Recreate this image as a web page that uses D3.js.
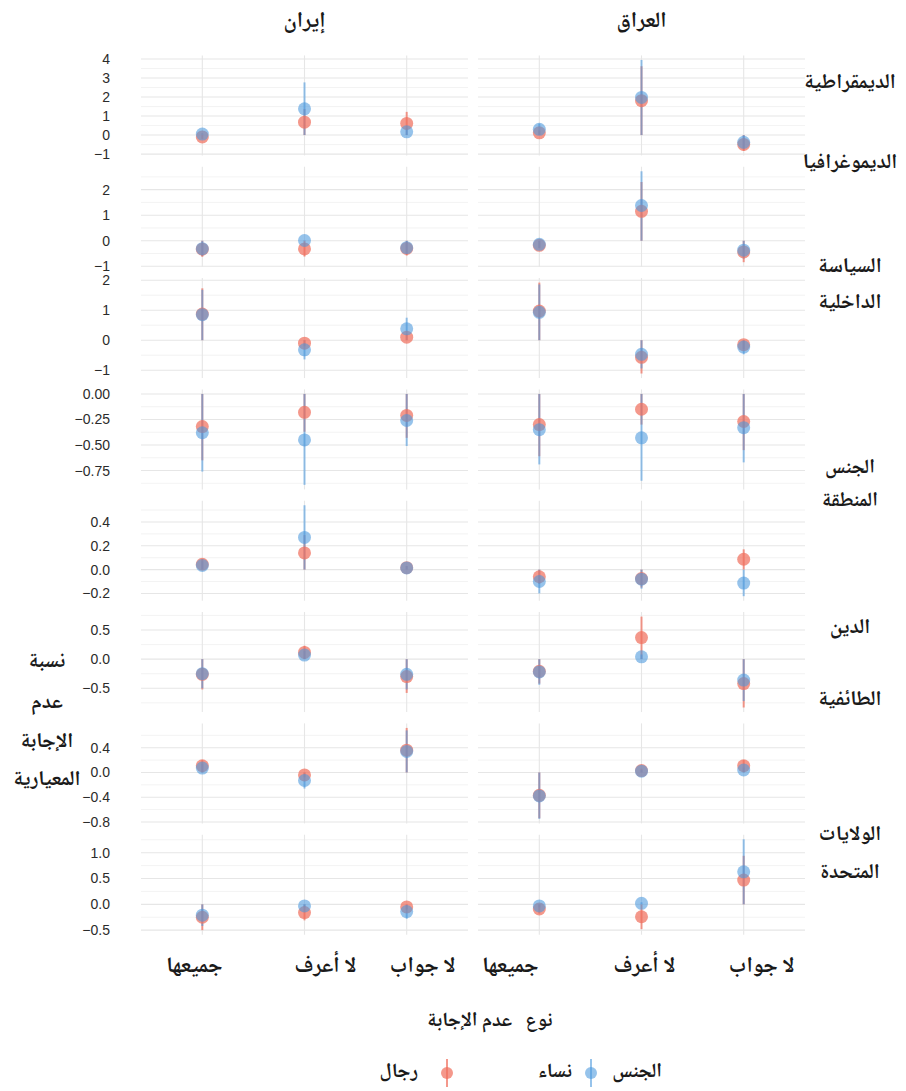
<!DOCTYPE html>
<html><head><meta charset="utf-8">
<script src="https://cdn.jsdelivr.net/npm/d3@7"></script>
<style>body{margin:0;background:#fff}svg{display:block}</style>
</head><body><svg id="c" width="906" height="1091"></svg>
<script>
// ---------------- DATA ----------------
const countries = ["إيران", "العراق"];
const categories = ["جميعها", "لا أعرف", "لا جواب"];
const topics = ["الديمقراطية", "الديموغرافيا", "السياسة الداخلية", "الجنس", "المنطقة", "الدين", "الطائفية", "الولايات المتحدة"];
const genders = ["نساء", "رجال"];

// each row = topic, each column = category (جميعها, لا أعرف, لا جواب)
const womenIran = [[0.05,1.38,0.17],[-0.31,0.01,-0.27],[0.85,-0.32,0.38],[-0.38,-0.45,-0.26],[0.035,0.27,0.014],[-0.25,0.07,-0.26],[0.07,-0.13,0.34],[-0.21,-0.03,-0.14]];
const womenIranLow = [[0,0,0],[-0.6,0,-0.5],[0,-0.64,0],[-0.76,-0.89,-0.51],[0,0,0],[-0.5,0,-0.52],[0,-0.26,0],[-0.42,-0.06,-0.28]];
const womenIranHigh = [[0.1,2.77,0.35],[0,0.02,0],[1.68,0,0.75],[0,0,0],[0.07,0.54,0.03],[0,0.14,0],[0.14,0,0.68],[0,0,0]];

const menIran = [[-0.1,0.68,0.61],[-0.33,-0.32,-0.3],[0.87,-0.1,0.1],[-0.32,-0.18,-0.21],[0.045,0.14,0.016],[-0.26,0.115,-0.3],[0.108,-0.04,0.36],[-0.25,-0.16,-0.05]];
const menIranLow = [[-0.2,0,0],[-0.63,-0.62,-0.58],[0,-0.2,0],[-0.65,-0.37,-0.43],[0,0,0],[-0.52,0,-0.58],[0,-0.08,0],[-0.5,-0.31,-0.1]];
const menIranHigh = [[0,1.37,1.22],[0,0,0],[1.73,0,0.2],[0,0,0],[0.09,0.29,0.03],[0,0.23,0],[0.2,0,0.72],[0,0,0]];

const womenIraq = [[0.3,1.98,-0.38],[-0.14,1.38,-0.37],[0.93,-0.47,-0.23],[-0.35,-0.43,-0.33],[-0.1,-0.08,-0.113],[-0.22,0.04,-0.36],[-0.38,0.02,0.04],[-0.03,0.02,0.63]];
const womenIraqLow = [[0,0,-0.76],[-0.28,0,-0.7],[0,-0.94,-0.47],[-0.69,-0.85,-0.67],[-0.2,-0.16,-0.223],[-0.44,0,-0.72],[-0.75,0,0],[-0.06,0,0]];
const womenIraqHigh = [[0.6,3.95,0],[0,2.72,0],[1.86,0,0],[0,0,0],[0,0,0],[0,0.08,0],[0,0.04,0.08],[0,0.04,1.26]];

const menIraq = [[0.12,1.81,-0.49],[-0.18,1.15,-0.44],[0.97,-0.57,-0.15],[-0.3,-0.15,-0.27],[-0.06,-0.075,0.087],[-0.21,0.37,-0.42],[-0.37,0.03,0.108],[-0.09,-0.24,0.47]];
const menIraqLow = [[0,0,-0.83],[-0.3,0,-0.84],[0,-1.11,-0.3],[-0.61,-0.3,-0.55],[-0.12,-0.15,0],[-0.42,0,-0.83],[-0.74,0,0],[-0.18,-0.48,0]];
const menIraqHigh = [[0.24,3.62,0],[0,2.3,0],[1.92,0,0],[0,0,0],[0,0,0.17],[0,0.73,0],[0,0.06,0.2],[0,0,0.94]];

// y tick values per topic row
const tickValues = [[-1,0,1,2,3,4],[-1,0,1,2],[-1,0,1,2],[-0.75,-0.5,-0.25,0],[-0.2,0,0.2,0.4],[-0.5,0,0.5],[-0.8,-0.4,0,0.4],[-0.5,0,0.5,1]];
const tickDecimals = [0,0,0,2,1,1,1,1];

// ---------------- LAYOUT ----------------
const L = {
  panelX: [[141,468],[478,805]],
  top0: 55.4, rowStep: 111.33, panelH: 100,
  tickX: 110,
  stripY: 22,
  rowLabelX: 850,
  rowLabelLines: [[["الديمقراطية",83,"21px"]],[["الديموغرافيا",163,"21px"]],[["السياسة",267,"21px"],["الداخلية",303,"21px"]],[["الجنس",469,"20px"]],[["المنطقة",502,"20px"]],[["الدين",628,"21px"]],[["الطائفية",700,"21px"]],[["الولايات",835,"21px"],["المتحدة",873,"21px"]]],
  catLabelY: 967,
  catLabelShift: [[-8,21,16],[-29,3,18]],
  yTitle: [["نسبة",662],["عدم",703],["الإجابة",742],["المعيارية",780]],
  yTitleX: 47,
  xTitleY: 1022,
  legendY: 1073
};
const colors = {"نساء": "#4A97DC", "رجال": "#F0705E"};
const alphas = {"نساء": 0.58, "رجال": 0.72};
const arabicFont = "'Noto Naskh Arabic','Noto Sans Arabic','DejaVu Sans',sans-serif";
const tickFont = "'Liberation Sans',Arial,sans-serif";
const bigArabic = "21px";

const svg = d3.select("#c");

const series = [
  {g:"رجال", c:0, v:menIran, lo:menIranLow, hi:menIranHigh},
  {g:"رجال", c:1, v:menIraq, lo:menIraqLow, hi:menIraqHigh},
  {g:"نساء", c:0, v:womenIran, lo:womenIranLow, hi:womenIranHigh},
  {g:"نساء", c:1, v:womenIraq, lo:womenIraqLow, hi:womenIraqHigh}
];

function arText(x, y, t, size, anchor) {
  return svg.append("text").attr("x", x).attr("y", y)
    .attr("text-anchor", anchor || "middle").attr("dominant-baseline","central")
    .style("font-family", arabicFont).style("font-weight","bold").style("font-size", size)
    .attr("fill","#1a1a1a").text(t);
}

// strip titles (countries)
countries.forEach((name, c) => {
  arText((L.panelX[c][0]+L.panelX[c][1])/2, L.stripY, name, "22px");
});

topics.forEach((topic, r) => {
  const top = L.top0 + r*L.rowStep;
  // free y per row: data extent + 5%
  let all = [];
  series.forEach(s => { all = all.concat(s.lo[r], s.hi[r], s.v[r]); });
  const mn = d3.min(all), mx = d3.max(all), pad = (mx-mn)*0.05;
  const y = d3.scaleLinear().domain([mn-pad, mx+pad]).range([top+L.panelH, top]);
  const ticks = tickValues[r];
  const step = ticks[1]-ticks[0];
  const minors = [];
  for (let k = Math.floor((mn-pad)/step)-1; k <= Math.ceil((mx+pad)/step)+1; k++) {
    const m = (k+0.5)*step;
    if (m >= mn-pad && m <= mx+pad) minors.push(m);
  }
  const fmt = d3.format("." + tickDecimals[r] + "f");

  // y axis tick labels (left only)
  const ax = svg.append("g").attr("transform", `translate(${L.tickX},0)`)
    .call(d3.axisLeft(y).tickValues(ticks).tickFormat(fmt).tickSize(0).tickPadding(0));
  ax.select(".domain").remove();
  ax.selectAll("text").style("font-family", tickFont).style("font-size","14px").attr("fill","#2b2b2b");

  countries.forEach((cn, c) => {
    const [x0, x1] = L.panelX[c];
    const x = d3.scalePoint().domain(categories).range([x0, x1]).padding(0.6);
    const g = svg.append("g");
    g.selectAll("line.minor").data(minors).join("line")
      .attr("x1", x0).attr("x2", x1).attr("y1", d=>y(d)).attr("y2", d=>y(d))
      .attr("stroke","#ebebeb").attr("stroke-width",0.6);
    g.selectAll("line.major").data(ticks).join("line")
      .attr("x1", x0).attr("x2", x1).attr("y1", d=>y(d)).attr("y2", d=>y(d))
      .attr("stroke","#e6e6e6").attr("stroke-width",1.1);
    g.selectAll("line.vg").data(categories).join("line")
      .attr("x1", d=>x(d)).attr("x2", d=>x(d)).attr("y1", top).attr("y2", top+L.panelH)
      .attr("stroke","#e6e6e6").attr("stroke-width",1.1);

    const ss = series.filter(s => s.c === c);
    ss.forEach(s => {
      g.selectAll(null).data(categories).join("line")
        .attr("x1", d=>x(d)).attr("x2", d=>x(d))
        .attr("y1", (d,i)=>y(s.lo[r][i])).attr("y2", (d,i)=>y(s.hi[r][i]))
        .attr("stroke", colors[s.g]).attr("stroke-opacity", alphas[s.g]).attr("stroke-width", 2);
    });
    ss.forEach(s => {
      g.selectAll(null).data(categories).join("circle")
        .attr("cx", d=>x(d)).attr("cy", (d,i)=>y(s.v[r][i])).attr("r", 6.5)
        .attr("fill", colors[s.g]).attr("fill-opacity", alphas[s.g]);
    });

    if (r === topics.length-1) {
      categories.forEach((cat, i) => {
        arText(x(cat) + L.catLabelShift[c][i], L.catLabelY, cat, "22px");
      });
    }
  });

  // row strip labels (right)
  L.rowLabelLines[r].forEach(([t, yy, fs]) => arText(L.rowLabelX, yy, t, fs));
});

// y title
L.yTitle.forEach(([t, yy]) => arText(L.yTitleX, yy, t, bigArabic));

// x title
arText(490, L.xTitleY, "نوع   عدم الإجابة", "20px").attr("xml:space","preserve").style("white-space","pre");

// legend
arText(662, L.legendY, "الجنس", "20px", "end");
const legendItems = [{g:genders[0], kx:591, tx:572},{g:genders[1], kx:447, tx:418}];
legendItems.forEach(it => {
  svg.append("line").attr("x1", it.kx).attr("x2", it.kx).attr("y1", L.legendY-14).attr("y2", L.legendY+14)
    .attr("stroke", colors[it.g]).attr("stroke-opacity", alphas[it.g]).attr("stroke-width", 2);
  svg.append("circle").attr("cx", it.kx).attr("cy", L.legendY).attr("r", 6)
    .attr("fill", colors[it.g]).attr("fill-opacity", alphas[it.g]);
  arText(it.tx, L.legendY, it.g, "20px", "end");
});
</script></body></html>
